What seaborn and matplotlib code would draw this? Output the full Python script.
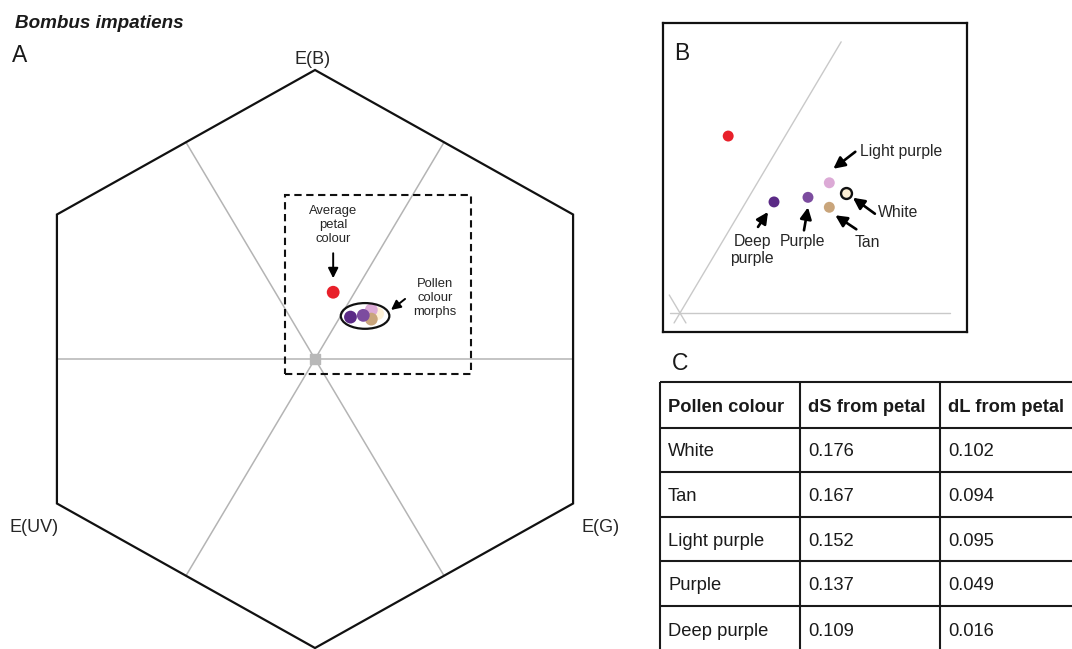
import numpy as np
import pandas as pd
import matplotlib
matplotlib.use('Agg')
import matplotlib.pyplot as plt
import seaborn as sns
from matplotlib.patches import Polygon, Rectangle, Ellipse
from matplotlib.transforms import offset_copy

# ---------------- data ----------------
morphs = ['White', 'Light purple', 'Tan', 'Purple', 'Deep purple']
morph_x = [0.210, 0.189, 0.189, 0.162, 0.119]
morph_y = [0.157, 0.170, 0.138, 0.151, 0.145]
morph_colors = ['#fdf0d6', '#dcaad6', '#c9a57b', '#7c4c9f', '#5b2a86']
petal_label = 'Average petal'
petal_x = [0.061]
petal_y = [0.231]
petal_color = '#e8202a'

vertex_labels = ['E(B)', 'E(UV)', 'E(G)']

table_header = ['Pollen colour', 'dS from petal', 'dL from petal']
table_colours = ['White', 'Tan', 'Light purple', 'Purple', 'Deep purple']
dS_values = [0.176, 0.167, 0.152, 0.137, 0.109]
dL_values = [0.102, 0.094, 0.095, 0.049, 0.016]

# ---------------- setup ----------------
sns.set_theme(style='white')
plt.rcParams['font.family'] = ['Liberation Sans', 'DejaVu Sans']

W, H = 1072, 649
fig = plt.figure(figsize=(W / 100, H / 100), dpi=100)


def px_axes(x0, y0, x1, y1):
    return fig.add_axes([x0 / W, 1 - y1 / H, (x1 - x0) / W, (y1 - y0) / H])


def off(ax, dx, dy):
    return offset_copy(ax.transData, fig=fig, x=dx, y=dy, units='dots')


def arrow(ax, xy, head, tail, lw, ms):
    ax.annotate('', xy=xy, xycoords=off(ax, *head), xytext=xy,
                textcoords=off(ax, *tail),
                arrowprops=dict(arrowstyle='-|>', color='black', lw=lw,
                                mutation_scale=ms, shrinkA=0, shrinkB=0),
                annotation_clip=False)


df = pd.DataFrame({'morph': morphs, 'x': morph_x, 'y': morph_y})
pal = dict(zip(morphs, morph_colors))
dfp = pd.DataFrame({'morph': [petal_label], 'x': petal_x, 'y': petal_y})

# hexagon geometry (unit radius)
ang = np.deg2rad([90, 30, -30, -90, -150, 150])
hex_xy = np.column_stack([np.cos(ang), np.sin(ang)])
mid_r = np.cos(np.deg2rad(30))

# ---------------- panel A ----------------
CX, CY, SX, SY = 315, 359, 298, 289
axA = px_axes(0, 40, 630, 649)
axA.set_xlim((0 - CX) / SX, (630 - CX) / SX)
axA.set_ylim((CY - 649) / SY, (CY - 40) / SY)
axA.axis('off')

for a in [0, 60, 120]:
    r = np.deg2rad(a)
    axA.plot([-mid_r * np.cos(r), mid_r * np.cos(r)],
             [-mid_r * np.sin(r), mid_r * np.sin(r)],
             color='#b4b4b4', lw=1.1, zorder=1)
axA.add_patch(Polygon(hex_xy, closed=True, fill=False, ec='#111111',
                      lw=1.6, joinstyle='miter', clip_on=False, zorder=2))
axA.scatter([0], [0], marker='s', s=50, color='#b8b8b8', zorder=3)

axA.add_patch(Rectangle((-0.1007, -0.0519), 0.6242, 0.6194, fill=False,
                        ec='#111111', lw=1.5, ls=(0, (3.5, 2.2)), zorder=2))

sns.scatterplot(data=dfp, x='x', y='y', color=petal_color, s=85,
                edgecolor='none', legend=False, ax=axA, zorder=4)
sns.scatterplot(data=df, x='x', y='y', hue='morph', palette=pal, s=85,
                edgecolor='none', legend=False, ax=axA, zorder=4)
axA.set_xlabel('')
axA.set_ylabel('')
axA.add_patch(Ellipse((0.168, 0.149), 0.163, 0.089, fill=False,
                      ec='#111111', lw=1.6, zorder=5))

pxy = (petal_x[0], petal_y[0])
arrow(axA, pxy, (0, 14), (0, 39), 1.4, 15)
axA.annotate('Average\npetal\ncolour', xy=pxy, xytext=(0, 67),
             textcoords='offset pixels', ha='center', va='center',
             fontsize=9.4, linespacing=1.25)
exy = (0.168, 0.149)
arrow(axA, exy, (26, 6), (40, 17), 1.4, 14)
axA.annotate('Pollen\ncolour\nmorphs', xy=exy, xytext=(70, 18),
             textcoords='offset pixels', ha='center', va='center',
             fontsize=9.4, linespacing=1.25)

vert_pos = [(0, 1), (-mid_r, -0.5), (mid_r, -0.5)]
vert_off = [(-2, 11), (-23, -24), (27, -24)]
for lab, p, o in zip(vertex_labels, vert_pos, vert_off):
    axA.annotate(lab, xy=p, xytext=o, textcoords='offset pixels',
                 ha='center', va='center', fontsize=13,
                 annotation_clip=False)

# ---------------- panel B ----------------
OX, OY, SXB, SYB = 680, 313, 790, 766
axB = px_axes(663, 23, 967, 332)
axB.set_xlim((663 - OX) / SXB, (967 - OX) / SXB)
axB.set_ylim((OY - 332) / SYB, (OY - 23) / SYB)
axB.set_xticks([])
axB.set_yticks([])
for s in axB.spines.values():
    s.set_visible(True)
    s.set_color('#111111')
    s.set_linewidth(1.6)

gray_b = '#c9c9c9'
axB.plot([-0.0127, 0.342], [0, 0], color=gray_b, lw=1.0, zorder=1)
axB.plot([-0.0075, 0.204], [-0.013, 0.354], color=gray_b, lw=1.0, zorder=1)
axB.plot([-0.0136, 0.0075], [0.0235, -0.013], color=gray_b, lw=1.0, zorder=1)

sns.scatterplot(data=dfp, x='x', y='y', color=petal_color, s=62,
                edgecolor='none', legend=False, ax=axB, zorder=4)
sns.scatterplot(data=df[df.morph != 'White'], x='x', y='y', hue='morph',
                palette=pal, s=62, edgecolor='none', legend=False, ax=axB,
                zorder=4)
sns.scatterplot(data=df[df.morph == 'White'], x='x', y='y', hue='morph',
                palette=pal, s=62, edgecolor='#111111', linewidth=1.7,
                legend=False, ax=axB, zorder=4)
axB.set_xlabel('')
axB.set_ylabel('')

b_ann = {
    'Light purple': ((4, 14), (26, 31), (31, 31), 'left'),
    'White': ((7, -5), (29, -21), (32, -20), 'left'),
    'Tan': ((6, -8), (27, -22), (38, -35), 'center'),
    'Purple': ((0, -10), (-4, -33), (-5, -44), 'center'),
    'Deep purple': ((-6, -10), (-16, -25), (-22, -48), 'center'),
}
for name, xv, yv in zip(morphs, morph_x, morph_y):
    head, tail, txt, ha = b_ann[name]
    arrow(axB, (xv, yv), head, tail, 1.9, 17)
    label = 'Deep\npurple' if name == 'Deep purple' else name
    axB.annotate(label, xy=(xv, yv), xytext=txt, textcoords='offset pixels',
                 ha=ha, va='center', fontsize=11.3, linespacing=1.15)

# ---------------- overlay: titles and table ----------------
axT = fig.add_axes([0, 0, 1, 1])
axT.set_xlim(0, W)
axT.set_ylim(H, 0)
axT.axis('off')
axT.patch.set_alpha(0)

axT.text(15, 28, 'Bombus impatiens', fontsize=13.6, fontweight='bold',
         style='italic', va='baseline', ha='left', color='#1a1a1a')
axT.text(12, 62, 'A', fontsize=16.5, va='baseline', ha='left', color='#1a1a1a')
axT.text(674, 60, 'B', fontsize=16.5, va='baseline', ha='left', color='#1a1a1a')
axT.text(672, 370, 'C', fontsize=16.5, va='baseline', ha='left', color='#1a1a1a')

col_x = [660, 800, 940, 1090]
row_y = [382, 428, 472, 517, 561, 606, 652]
axT.vlines(col_x, row_y[0], row_y[-1], color='#1a1a1a', lw=1.5)
axT.hlines(row_y, col_x[0], col_x[-1], color='#1a1a1a', lw=1.5)

for j, h in enumerate(table_header):
    axT.text(col_x[j] + 8, (row_y[0] + row_y[1]) / 2 + 2, h, fontsize=13.2,
             fontweight='bold', va='center', ha='left', color='#1a1a1a')
for i, (c, ds, dl) in enumerate(zip(table_colours, dS_values, dL_values)):
    yc = (row_y[i + 1] + row_y[i + 2]) / 2 + 2
    for j, t in enumerate([c, f'{ds:.3f}', f'{dl:.3f}']):
        axT.text(col_x[j] + 8, yc, t, fontsize=13.2, va='center', ha='left',
                 color='#1a1a1a')

fig.savefig('out.png', dpi=100)
